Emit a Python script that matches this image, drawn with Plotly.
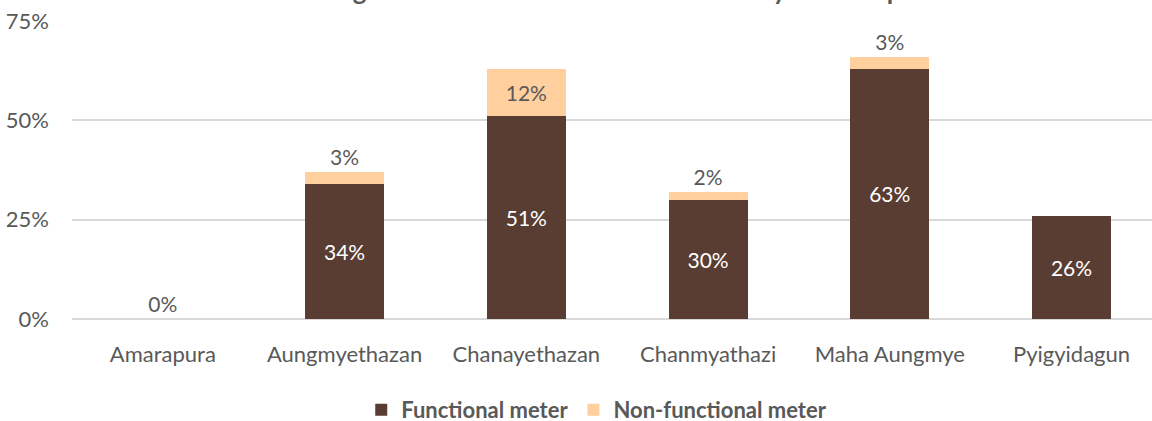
import plotly.graph_objects as go

categories = ["Amarapura", "Aungmyethazan", "Chanayethazan", "Chanmyathazi", "Maha Aungmye", "Pyigyidagun"]
functional = [0.00, 0.34, 0.51, 0.30, 0.63, 0.26]
non_functional = [0.00, 0.03, 0.12, 0.02, 0.03, 0.00]
y_ticks = [0, 0.25, 0.50, 0.75]
title_text = "Percentage of households with water meter by Township"

FONT = "Lato"
GREY = "#595959"
BROWN = "#593D32"
PEACH = "#FFCF9E"

func_text = [f"{v:.0%}" for v in functional]
func_pos = ["outside" if v == 0 else "inside" for v in functional]
nf_text = [f"{v:.0%}" if v > 0 else "" for v in non_functional]
nf_pos = ["inside" if v >= 0.08 else ("outside" if v > 0 else "none") for v in non_functional]

fig = go.Figure()
fig.add_trace(go.Bar(
    x=categories, y=functional, name="Functional meter",
    marker=dict(color=BROWN, line=dict(width=0)),
    text=func_text, textposition=func_pos, texttemplate="%{text}",
    insidetextfont=dict(color="white", size=21, family=FONT),
    outsidetextfont=dict(color=GREY, size=21, family=FONT),
    insidetextanchor="middle", constraintext="none", cliponaxis=False,
    hoverinfo="skip",
))
fig.add_trace(go.Bar(
    x=categories, y=non_functional, name="Non-functional meter",
    marker=dict(color=PEACH, line=dict(width=0)),
    text=nf_text, textposition=nf_pos, texttemplate="%{text}",
    insidetextfont=dict(color=GREY, size=21, family=FONT),
    outsidetextfont=dict(color=GREY, size=21, family=FONT),
    insidetextanchor="middle", constraintext="none", cliponaxis=False,
    hoverinfo="skip",
))

fig.update_layout(
    barmode="stack",
    bargap=0.565,
    width=1152, height=421,
    margin=dict(l=72, r=0, t=21, b=102),
    paper_bgcolor="white", plot_bgcolor="white",
    font=dict(family=FONT, size=22, color=GREY),
    showlegend=True,
    legend=dict(
        orientation="h", xref="container", yref="container",
        x=0.518, xanchor="center", y=0.026, yanchor="middle",
        font=dict(family=FONT, size=22, color=GREY, weight="bold"),
        itemwidth=30, traceorder="normal",
    ),
    title=dict(
        text=f"<b>{title_text}</b>", xref="container", yref="container",
        x=0.5, xanchor="center", y=1.0, yanchor="bottom",
        font=dict(family=FONT, size=26, color=GREY),
    ),
    xaxis=dict(
        type="category", range=[-0.5, 5.443],
        showline=False, showgrid=False, ticks="",
        tickfont=dict(family=FONT, size=22, color=GREY),
        ticklabelstandoff=20,
    ),
    yaxis=dict(
        range=[0, 0.75], tickvals=y_ticks, tickformat=".0%",
        showgrid=True, gridcolor="#D9D9D9", gridwidth=1.5,
        zeroline=True, zerolinecolor="#D9D9D9", zerolinewidth=1.5,
        showline=False, ticks="",
        tickfont=dict(family=FONT, size=22, color=GREY),
        ticklabelstandoff=22,
    ),
)

fig.write_html(
    "out.html",
    config={"displayModeBar": False},
    post_script="document.body.style.margin='0';document.body.style.overflow='hidden';",
)
